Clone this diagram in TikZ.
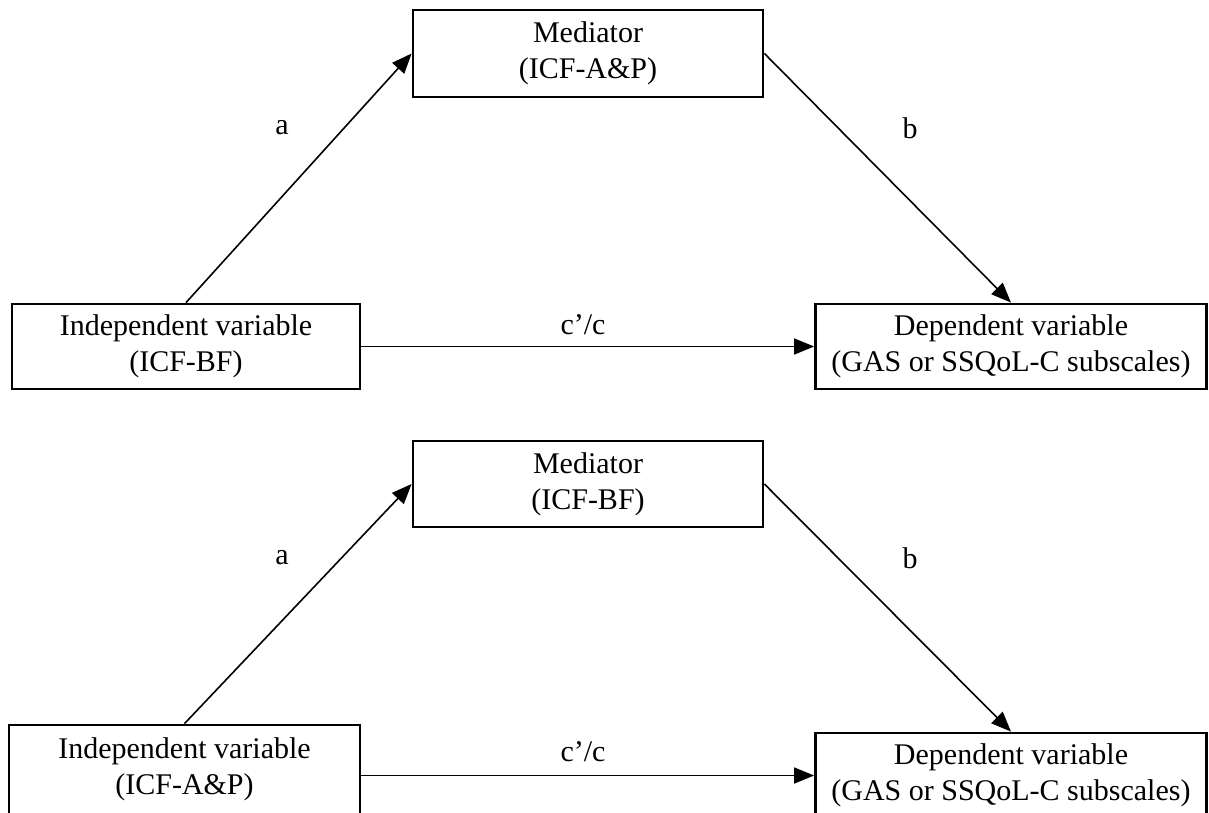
\documentclass[tikz,border=0pt]{standalone}
\usepackage{fontspec}
\setmainfont{Liberation Serif}
\usetikzlibrary{arrows.meta}
\begin{document}
\begin{tikzpicture}[x=1pt,y=-1pt,
  box/.style={draw,line width=2.8pt,rectangle,inner sep=0pt,align=center,
    font=\fontsize{30}{36}\selectfont},
  arr/.style={line width=1.6pt,-{Triangle[length=20pt,width=16pt]}},
  lbl/.style={font=\fontsize{30}{36}\selectfont,inner sep=0pt}]
\clip (0,0) rectangle (1209,812);
\fill[white] (0,0) rectangle (1209,812);
% top diagram
\node[box,minimum width=348pt,minimum height=85pt] (I1) at (186,346.5) {Independent variable\\(ICF-BF)};
\node[box,minimum width=350pt,minimum height=87pt] (M1) at (588,53.5) {Mediator\\(ICF-A\&P)};
\node[box,minimum width=391pt,minimum height=85pt] (D1) at (1011,346.5) {Dependent variable\\(GAS or SSQoL-C subscales)};
\draw[arr] (I1.north) -- (M1.west);
\draw[arr] (M1.east) -- (D1.north);
\draw[arr] (I1.east) -- (D1.west);
\node[lbl] (a1) at (282,128) {a};
\node[lbl] (b1) at (910,128) {b};
\node[lbl] (c1) at (583,325) {c’/c};
% bottom diagram
\node[box,minimum width=351pt,minimum height=89pt] (I2) at (184.5,769.5) {Independent variable\\(ICF-A\&P)};
\node[box,minimum width=350pt,minimum height=86pt] (M2) at (588,484) {Mediator\\(ICF-BF)};
\node[box,minimum width=391pt,minimum height=85pt] (D2) at (1011,775.5) {Dependent variable\\(GAS or SSQoL-C subscales)};
\draw[arr] (I2.north) -- (M2.west);
\draw[arr] (M2.east) -- (D2.north);
\draw[arr] (I2.east |- D2.west) -- (D2.west);
\node[lbl] (a2) at (282,558) {a};
\node[lbl] (b2) at (910,558) {b};
\node[lbl] (c2) at (583,752) {c’/c};
\end{tikzpicture}
\end{document}
